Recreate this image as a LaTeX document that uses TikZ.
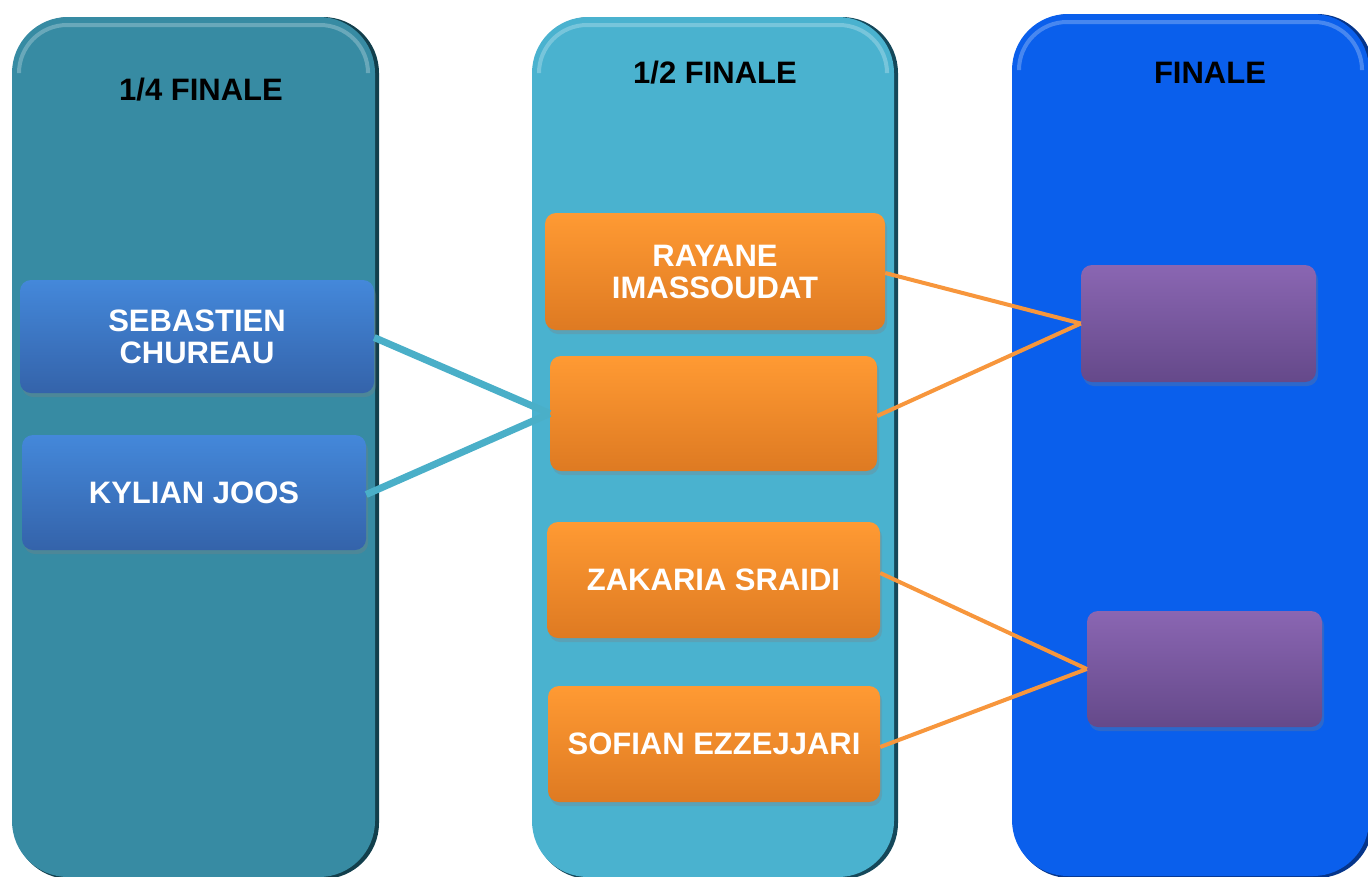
\documentclass[tikz,border=0pt]{standalone}
\usepackage{fontspec}
\setmainfont{Liberation Sans}
\usetikzlibrary{shadows}
\definecolor{colA}{HTML}{378BA3}
\definecolor{colAd}{HTML}{123F4C}
\definecolor{colB}{HTML}{4AB2CF}
\definecolor{colBd}{HTML}{15485A}
\definecolor{colC}{HTML}{0A5FEC}
\definecolor{colCd}{HTML}{06358A}
\definecolor{bluetop}{HTML}{4488DA}
\definecolor{bluebot}{HTML}{3463AA}
\definecolor{orgtop}{HTML}{FF9A33}
\definecolor{orgbot}{HTML}{DE7A22}
\definecolor{purtop}{HTML}{8A66B2}
\definecolor{purbot}{HTML}{65498A}
\definecolor{tealline}{HTML}{4AAFC8}
\definecolor{orgline}{HTML}{F7963C}
\tikzset{
  colbox/.style={rounded corners=56pt, fill=#1},
  boxbase/.style={rounded corners=11pt, draw=none, text=white,
    font=\fontsize{31}{32}\selectfont\bfseries, align=center, inner sep=0pt,
    drop shadow={shadow xshift=2pt, shadow yshift=-4pt, opacity=0.3}},
  bluebox/.style={boxbase, top color=bluetop, bottom color=bluebot},
  orgbox/.style={boxbase, top color=orgtop, bottom color=orgbot},
  purbox/.style={boxbase, top color=purtop, bottom color=purbot},
  header/.style={font=\fontsize{31}{32}\selectfont\bfseries, text=black, inner sep=0pt},
  tline/.style={draw=tealline, line width=7pt},
  oline/.style={draw=orgline, line width=4pt},
  hilite/.style={white, opacity=0.25, line width=4pt, rounded corners=48pt},
}
\begin{document}
\begin{tikzpicture}[x=1pt,y=-1pt]
\useasboundingbox (0,0) rectangle (1368,876);
% columns: dark edge then body
\fill[colbox=colAd] (14,17) rectangle (379,879);
\fill[colbox=colA] (12,17) rectangle (375,877);
\draw[hilite] (19,72) -- (19,25) -- (368,25) -- (368,72);
\fill[colbox=colBd] (534,17) rectangle (898,879);
\fill[colbox=colB] (532,17) rectangle (894,877);
\draw[hilite] (539,72) -- (539,25) -- (887,25) -- (887,72);
\fill[colbox=colCd] (1014,14) rectangle (1373,878);
\fill[colbox=colC] (1012,14) rectangle (1369,876);
\draw[hilite] (1019,69) -- (1019,22) -- (1362,22) -- (1362,69);
% headers
\node[header] (h1) at (201,90) {1/4 FINALE};
\node[header] (h2) at (715,73) {1/2 FINALE};
\node[header] (h3) at (1210,73) {FINALE};
% boxes
\node[bluebox, minimum width=354pt, minimum height=113pt] (seb) at (197,336.5) {SEBASTIEN\\CHUREAU};
\node[bluebox, minimum width=344pt, minimum height=115pt] (kyl) at (194,492.5) {KYLIAN JOOS};
\node[orgbox, minimum width=340pt, minimum height=117pt] (ray) at (715,271.5) {RAYANE\\IMASSOUDAT};
\node[orgbox, minimum width=327pt, minimum height=115pt] (emp) at (713.5,413.5) {};
\node[orgbox, minimum width=333pt, minimum height=116pt] (zak) at (713.5,580) {ZAKARIA SRAIDI};
\node[orgbox, minimum width=332pt, minimum height=116pt] (sof) at (714,744) {SOFIAN EZZEJJARI};
\node[purbox, minimum width=235pt, minimum height=117pt] (p1) at (1198.5,323.5) {};
\node[purbox, minimum width=235pt, minimum height=116pt] (p2) at (1204.5,669) {};
% connectors
\draw[tline] ([yshift=-1pt]seb.east) -- (emp.west);
\draw[tline] ([yshift=-2pt]kyl.east) -- (emp.west);
\draw[oline] ([yshift=-1.5pt]ray.east) -- (p1.west);
\draw[oline] ([yshift=-2.5pt]emp.east) -- (p1.west);
\draw[oline] ([yshift=7pt]zak.east) -- (p2.west);
\draw[oline] ([yshift=-3pt]sof.east) -- (p2.west);
\end{tikzpicture}
\end{document}
